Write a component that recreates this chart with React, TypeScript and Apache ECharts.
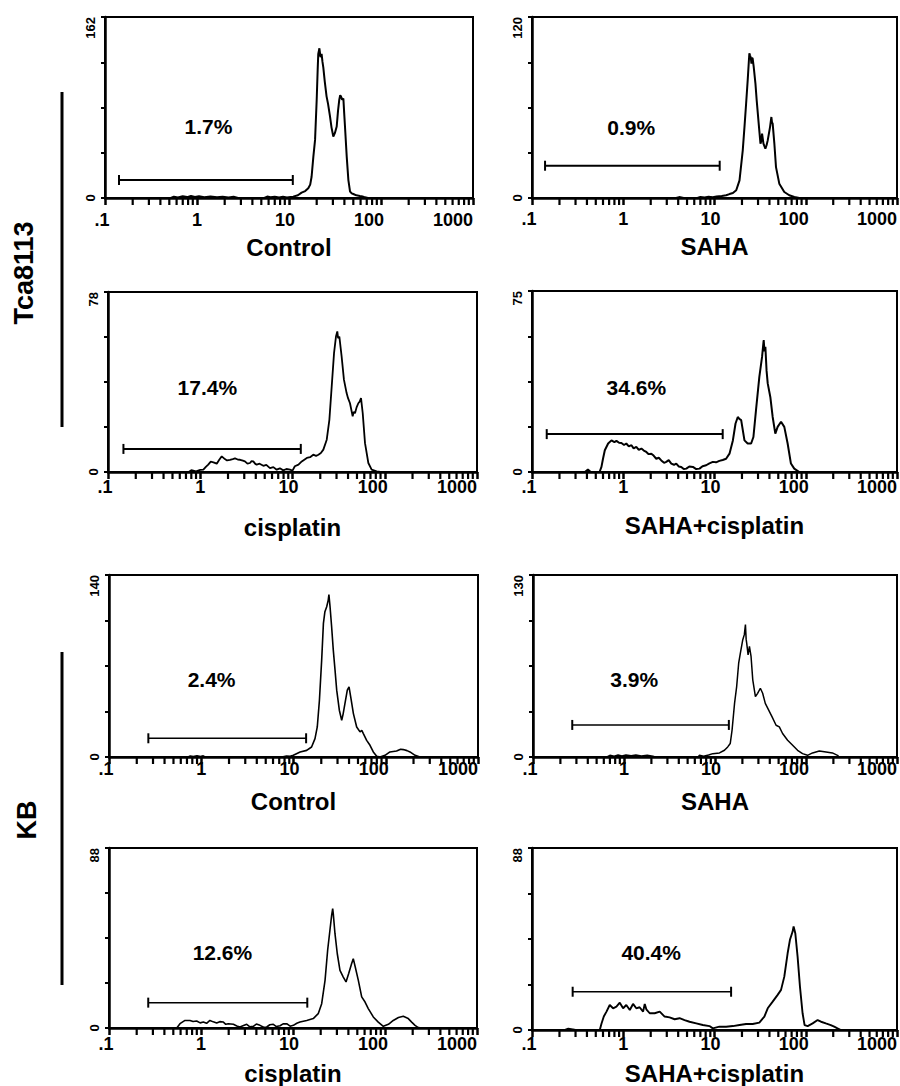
import React, { useEffect, useRef } from "react";
import * as echarts from "echarts";

// ---------- data ----------
const titles = ["Control", "SAHA", "cisplatin", "SAHA+cisplatin", "Control", "SAHA", "cisplatin", "SAHA+cisplatin"];
const yMax = [162, 120, 78, 75, 140, 130, 88, 88];
const xTickLabels = [".1", "1", "10", "100", "1000"];
const minorTickValues = [0.2, 0.3, 0.4, 0.5, 0.6, 0.7, 0.8, 0.9, 2, 3, 4, 5, 6, 7, 8, 9, 20, 30, 40, 50, 60, 70, 80, 90, 200, 300, 400, 500, 600, 700, 800, 900];
const percentLabels = ["1.7%", "0.9%", "17.4%", "34.6%", "2.4%", "3.9%", "12.6%", "40.4%"];
const percentX = [1.35, 1.24, 1.21, 1.41, 1.31, 1.31, 1.73, 2.05];
const percentY = [63.5, 46.4, 36.4, 34.8, 59.2, 55, 36.7, 37.2];
const gateLow = [0.142, 0.139, 0.147, 0.145, 0.267, 0.27, 0.267, 0.279];
const gateHigh = [11.0, 11.4, 12.3, 12.3, 13.7, 14.2, 14.3, 15.2];
const gateLevel = [16.1, 21.4, 10.0, 15.7, 14.4, 22.9, 12.4, 18.5];
const rowLabels = ["Tca8113", "KB"];

const tcaControl: [number, number][] = [
  [0.1, 0], [0.52, 0], [0.56, 1.2], [0.62, 0.4], [0.7, 1.5], [0.78, 0.8], [0.86, 1.8], [0.95, 0.9], [1.05, 1.6], [1.2, 0.7], [1.4, 1.4], [1.65, 0.6], [1.9, 1.2], [2.2, 0.5], [2.5, 1.1], [2.8, 0], [5.4, 0], [5.8, 1.3], [6.3, 0.6], [7.0, 1.2], [7.8, 0.5], [8.6, 1.1], [9.5, 0.4], [10.4, 1.0], [11.1, 1.2], [12.5, 2.5], [13.7, 4.8], [15.0, 6.2], [16.2, 8.7], [17.0, 12], [17.6, 19], [18.4, 37], [19.2, 52], [20.0, 88], [20.5, 115], [20.8, 129], [21.4, 134], [22.0, 126], [22.6, 129], [23.1, 122], [23.6, 117], [24.5, 104], [25.6, 91], [26.6, 84], [27.9, 73], [29.0, 63], [30.3, 55], [31.5, 58], [33.0, 64], [34.1, 78], [35.2, 88], [36.0, 92], [36.7, 91], [37.8, 88], [39.0, 89], [39.8, 76], [40.6, 64], [42.4, 37], [44.2, 16], [46.1, 5.7], [48, 4.2], [50, 3.6], [54, 2.4], [59, 1.8], [63, 1.4], [67, 0.6], [72, 0], [1000, 0],
];
const tcaSaha: [number, number][] = [
  [0.1, 0], [3.8, 0], [4.1, 0.6], [4.6, 0], [6.5, 0], [7.0, 0.7], [7.8, 0.3], [8.6, 0.8], [9.6, 0.5], [10.5, 1.0], [12, 1.4], [13.4, 1.8], [14.6, 2.6], [15.9, 3.3], [17.3, 5.1], [18.8, 11.7], [20.4, 31.6], [21.3, 47], [22.2, 62.5], [23.1, 78], [23.7, 89], [24.1, 96], [24.5, 94.6], [25.0, 93], [25.4, 89], [25.8, 93], [26.2, 92.4], [26.9, 86.9], [28.1, 75.8], [29.0, 64.7], [30.5, 49.3], [31.9, 36], [32.6, 38], [33.2, 42.7], [34.4, 36], [36.1, 32.7], [37.2, 35], [38.3, 38.2], [40.6, 47], [42.0, 53.7], [42.7, 50], [43.4, 49.3], [45.3, 36], [47.2, 20.5], [51.3, 9.5], [58.2, 4], [66, 1.8], [75, 0.7], [85, 0], [1000, 0],
];
const tcaCis: [number, number][] = [
  [0.1, 0], [0.75, 0], [0.8, 0.8], [0.9, 0.3], [1.0, 0.9], [1.08, 1.0], [1.15, 2.2], [1.22, 3.2], [1.3, 4.5], [1.39, 4.2], [1.51, 3.6], [1.6, 5.2], [1.71, 6.8], [1.85, 5.6], [1.95, 5.0], [2.1, 5.3], [2.25, 5.6], [2.38, 5.9], [2.55, 5.4], [2.7, 5.3], [2.9, 4.9], [3.05, 4.6], [3.25, 3.6], [3.46, 3.9], [3.6, 4.7], [3.76, 4.6], [3.95, 3.5], [4.09, 3.2], [4.4, 3.6], [4.83, 2.7], [5.2, 3.1], [5.7, 1.7], [6.2, 2.1], [6.74, 1.0], [7.3, 1.6], [7.95, 0.7], [8.6, 1.3], [9.39, 1.0], [10, 0.6], [10.6, 2.5], [11.6, 3.2], [12.6, 4.6], [14.3, 6.1], [15.5, 6.4], [16.8, 7.5], [18, 7.0], [19.1, 7.5], [20.3, 8.2], [21.6, 9.7], [23.5, 14], [25.1, 22.6], [26.6, 37], [28.2, 51.5], [29.6, 58.7], [30.6, 60.9], [31.2, 58], [32.2, 58.7], [34.1, 50], [36.1, 40], [38.6, 34.2], [40, 32], [42.0, 29.8], [44.9, 24.1], [46, 26], [47.6, 25.5], [49.5, 28], [51.7, 29.8], [53.5, 30.5], [55.3, 32], [57.7, 25.5], [61.1, 12.5], [66.4, 3.9], [72.1, 1.0], [81.8, 0.3], [90, 0], [1000, 0],
];
const tcaSahaCis: [number, number][] = [
  [0.1, 0], [0.38, 0], [0.41, 1.0], [0.44, 0], [0.55, 0], [0.577, 2.1], [0.6, 5.5], [0.628, 9.0], [0.683, 11.8], [0.743, 13.1], [0.8, 12.4], [0.842, 12.9], [0.9, 12.1], [0.955, 12.0], [1.02, 11.2], [1.08, 11.8], [1.15, 10.6], [1.23, 11.1], [1.3, 9.8], [1.39, 10.4], [1.48, 9.2], [1.58, 9.7], [1.68, 8.9], [1.79, 8.3], [1.9, 7.4], [2.03, 7.6], [2.15, 6.8], [2.3, 5.5], [2.45, 5.9], [2.61, 4.8], [2.8, 3.8], [2.96, 4.2], [3.15, 4.9], [3.36, 3.5], [3.6, 3.0], [3.81, 3.5], [4.05, 2.3], [4.32, 2.1], [4.6, 1.2], [4.91, 1.4], [5.3, 2.3], [5.8, 2.1], [6.3, 1.2], [6.85, 1.4], [7.4, 2.4], [8.1, 2.8], [8.8, 3.6], [9.59, 4.2], [10.4, 4.0], [11.3, 4.6], [12.3, 5.0], [13.4, 5.5], [14.6, 7.6], [15.9, 13.1], [17.0, 20.1], [18.0, 22.8], [18.7, 22.0], [19.6, 21.5], [21.3, 13.1], [23.1, 11.8], [25.2, 11.8], [26.7, 14.5], [28.5, 25.6], [31.0, 39.4], [33.2, 47.7], [34.6, 54.7], [35.3, 50], [36.1, 51.9], [37.2, 42], [38.3, 36.7], [40.9, 31.1], [43.4, 22.8], [46.4, 15.9], [49.2, 18.7], [53.6, 20.8], [58.2, 18.7], [63.3, 11.8], [68.8, 3.5], [74.8, 1.4], [84.9, 0], [1000, 0],
];
const kbControl: [number, number][] = [
  [0.1, 0], [0.72, 0], [0.76, 0.8], [0.82, 0.3], [0.9, 1.0], [0.98, 0.4], [1.05, 0.9], [1.1, 0], [7.5, 0], [8.4, 0.8], [9.2, 0.5], [9.96, 1.3], [11.8, 3.9], [13.9, 5.1], [15.7, 7.7], [17.1, 14.1], [18.1, 23.1], [19.1, 43.7], [20.2, 74.5], [21.1, 102.8], [21.9, 111.8], [22.9, 115.6], [23.8, 120.7], [24.2, 125], [24.9, 115.6], [25.9, 100.2], [27.0, 82.2], [28.2, 66.8], [29.4, 51.4], [31.4, 36], [33.3, 28.3], [34.5, 33], [36.1, 41.1], [38.3, 51.4], [40.0, 53.9], [41.7, 46.2], [44.6, 33.4], [48.4, 23.1], [52.6, 19.3], [55, 20.5], [57.2, 18], [62.1, 12.8], [67.5, 9], [73.3, 3.9], [79.8, 0.5], [86.7, 0], [98.2, 1.3], [111, 3.9], [131, 4.6], [145, 6.0], [155, 5.7], [170, 4.9], [183, 3.9], [208, 1.3], [235, 0], [1000, 0],
];
const kbSaha: [number, number][] = [
  [0.1, 0], [0.65, 0], [0.7, 1.2], [0.78, 0.6], [0.86, 1.4], [0.95, 0.8], [1.05, 1.5], [1.2, 0.9], [1.35, 1.4], [1.55, 0.7], [1.8, 1.2], [2.08, 0.5], [2.2, 0], [6.5, 0], [6.76, 1.2], [7.5, 0.6], [8.5, 1.4], [9.46, 2.4], [11.2, 2.9], [12.7, 4.8], [13.8, 7.2], [14.7, 9.6], [15.4, 19.2], [16.4, 38.3], [17.3, 50.3], [18.2, 67], [19.0, 74.2], [20.2, 83.8], [21.0, 87.4], [21.6, 94.6], [22.0, 84], [22.3, 81.4], [23.1, 73], [23.9, 79], [24.9, 71.8], [26.0, 55.1], [27.8, 43.1], [29.4, 45.5], [31.5, 49.1], [33.4, 45.5], [35.7, 38.3], [38.9, 33.5], [42.4, 28.7], [46.9, 22.7], [50.9, 21.5], [55.3, 16.8], [62.8, 12], [71.3, 8.4], [80.8, 4.8], [91.6, 2.4], [104, 1.2], [118, 2.9], [140, 4.3], [166, 3.6], [195, 2.9], [222, 1.2], [231, 0], [1000, 0],
];
const kbCis: [number, number][] = [
  [0.1, 0], [0.545, 0], [0.591, 2.1], [0.67, 3.7], [0.759, 3.7], [0.82, 3.2], [0.897, 3.4], [0.98, 2.5], [1.06, 2.9], [1.15, 2.3], [1.25, 3.7], [1.36, 3.0], [1.48, 2.4], [1.6, 3.1], [1.75, 2.9], [1.86, 1.8], [1.98, 2.1], [2.25, 1.8], [2.45, 1.0], [2.65, 0.5], [2.9, 1.2], [3.14, 1.8], [3.4, 0.6], [3.7, 0.8], [4.0, 1.9], [4.38, 1.3], [4.8, 0.4], [5.18, 0.5], [5.6, 1.6], [6.11, 1.8], [6.6, 0.7], [7.23, 1.1], [7.8, 2.0], [8.54, 2.1], [9.3, 0.9], [10.1, 1.3], [11.0, 2.3], [11.9, 2.9], [14.1, 3.7], [16.6, 4.6], [18.8, 7], [20.5, 11.9], [22.3, 23.3], [23.8, 38], [25.2, 47.8], [26.3, 55.1], [27.0, 58.4], [27.4, 55.9], [28.6, 46.1], [30.3, 36.3], [32.4, 28.2], [35.2, 24.9], [37.7, 22.5], [40.3, 26.6], [43.4, 31.5], [45.2, 33.9], [47.5, 29.8], [51.3, 23.3], [55.8, 15.2], [60.7, 12.7], [65.8, 9.5], [74.6, 5.4], [84.5, 2.9], [95.9, 0.8], [109, 1.8], [123, 3.7], [140, 5.1], [158, 5.7], [179, 4.6], [195, 2.9], [212, 1.3], [230, 0.2], [251, 0], [1000, 0],
];
const kbSahaCis: [number, number][] = [
  [0.1, 0], [0.23, 0], [0.25, 0.6], [0.28, 0.3], [0.3, 0], [0.553, 0], [0.577, 3.0], [0.612, 6.5], [0.655, 8.9], [0.711, 12.1], [0.774, 10.5], [0.842, 11.3], [0.916, 13.2], [0.996, 10.5], [1.08, 12.1], [1.18, 9.7], [1.28, 12.6], [1.39, 10.5], [1.51, 11.0], [1.65, 8.9], [1.72, 12.6], [1.79, 10.0], [1.95, 8.1], [2.21, 8.1], [2.51, 8.9], [2.84, 6.5], [3.22, 6.1], [3.66, 5.2], [4.14, 5.7], [4.7, 4.8], [5.33, 4.0], [6.31, 3.2], [7.45, 2.4], [8.81, 1.9], [9.59, 0.8], [11.3, 1.6], [13.4, 1.6], [15.9, 1.9], [18.8, 2.4], [22.2, 2.9], [26.2, 2.9], [31.0, 3.6], [35.2, 6.5], [38.3, 10.5], [43.4, 13.7], [49.2, 17], [53.6, 19.4], [58.2, 25.8], [63.3, 37.1], [67.1, 43.6], [71.8, 47.6], [73.6, 50.1], [76.8, 46.8], [81.4, 35.5], [86.4, 21], [92.3, 8.1], [97.1, 2.4], [105, 1.9], [119, 3.2], [135, 4.8], [147, 4.0], [166, 3.2], [188, 2.4], [205, 1.6], [223, 0.8], [243, 0], [1000, 0],
];
const histograms = [tcaControl, tcaSaha, tcaCis, tcaSahaCis, kbControl, kbSaha, kbCis, kbSahaCis];

// ---------- layout (pixels) ----------
const layout = [
  { left: 105, top: 17, width: 368, height: 181, titleGap: 37, labelMargin: 13, lw: 2.0 },
  { left: 532, top: 17, width: 366, height: 181, titleGap: 36, labelMargin: 12, lw: 2.0 },
  { left: 108, top: 292, width: 369, height: 180, titleGap: 43, labelMargin: 6, lw: 1.8 },
  { left: 532, top: 291, width: 366, height: 181, titleGap: 41, labelMargin: 6, lw: 2.0 },
  { left: 109, top: 575, width: 369, height: 182, titleGap: 32, labelMargin: 3, lw: 1.6 },
  { left: 533, top: 575, width: 365, height: 182, titleGap: 32, labelMargin: 3, lw: 1.5 },
  { left: 109, top: 848, width: 368, height: 180, titleGap: 33, labelMargin: 7, lw: 1.6 },
  { left: 532, top: 848, width: 366, height: 182, titleGap: 31, labelMargin: 5, lw: 1.9 },
];

const FONT = '"Liberation Sans", Arial, Helvetica, sans-serif';
const lg = (v: number) => Math.log10(v);

function buildOption() {
  const grid: any[] = [];
  const xAxis: any[] = [];
  const yAxis: any[] = [];
  const series: any[] = [];
  const tickRich: any = {};
  const pads = [6, 0, 8, 24, 0];
  pads.forEach((p, i) => {
    tickRich["t" + i] = { fontSize: 18, fontWeight: "bold", fontFamily: FONT, color: "#000", padding: [0, p, 0, 0] };
  });

  layout.forEach((L, i) => {
    grid.push({ left: L.left, top: L.top, width: L.width, height: L.height, show: true, borderColor: "#000", borderWidth: 2 });
    xAxis.push({
      type: "value", gridIndex: i, min: -1, max: 3, interval: 1,
      name: titles[i], nameLocation: "middle", nameGap: L.titleGap,
      nameTextStyle: { fontSize: 24, fontWeight: "bold", fontFamily: FONT, color: "#000" },
      axisLine: { show: true, onZero: false, lineStyle: { color: "#000", width: 2.5 } },
      axisTick: { show: true, length: 7, lineStyle: { color: "#000", width: 2.5 } },
      splitLine: { show: false },
      axisLabel: {
        show: true, margin: L.labelMargin, showMinLabel: true, showMaxLabel: true, alignMaxLabel: "right",
        fontSize: 18, fontWeight: "bold", fontFamily: FONT, color: "#000",
        rich: tickRich,
        formatter: (v: number) => {
          const k = Math.round(v) + 1;
          return `{t${k}|${xTickLabels[k]}}`;
        },
      },
    });
    const mx = yMax[i];
    yAxis.push({
      type: "value", gridIndex: i, min: 0, max: mx, interval: mx / 4,
      axisLine: { show: true, onZero: false, lineStyle: { color: "#000", width: 2.5 } },
      axisTick: { show: true, length: 4, lineStyle: { color: "#000", width: 2 } },
      splitLine: { show: false },
      axisLabel: {
        show: true, rotate: 90, margin: 8, showMinLabel: true, showMaxLabel: true, alignMaxLabel: "right",
        fontSize: 13, fontWeight: "bold", fontFamily: FONT, color: "#000",
        formatter: (v: number) => (Math.abs(v) < 1e-9 ? "0" : Math.abs(v - mx) < 1e-6 ? String(mx) : ""),
      },
    });
    // histogram
    series.push({
      type: "line", xAxisIndex: i, yAxisIndex: i, symbol: "none", smooth: false,
      lineStyle: { color: "#000", width: L.lw }, z: 3,
      data: histograms[i].map(([x, y]) => [lg(x), y]),
    });
    // log-scale minor ticks below the x axis
    series.push({
      type: "custom", coordinateSystem: "cartesian2d", xAxisIndex: i, yAxisIndex: i, clip: false, z: 10,
      data: minorTickValues.map((v) => [lg(v), 0]),
      renderItem: (params: any, api: any) => {
        const p = api.coord([api.value(0), api.value(1)]);
        return {
          type: "rect",
          shape: { x: p[0] - 1.1, y: p[1], width: 2.2, height: 7 },
          style: { fill: "#000" },
        };
      },
    });
    // gate marker
    series.push({
      type: "line", xAxisIndex: i, yAxisIndex: i, showSymbol: true, symbol: "rect",
      symbolSize: [2, 10], itemStyle: { color: "#000" },
      lineStyle: { color: "#000", width: i < 4 ? 2 : 1.5 }, z: 4,
      data: [[lg(gateLow[i]), gateLevel[i]], [lg(gateHigh[i]), gateLevel[i]]],
    });
    // percent label
    series.push({
      type: "scatter", xAxisIndex: i, yAxisIndex: i, symbolSize: 1, silent: true, z: 5,
      itemStyle: { color: "rgba(0,0,0,0)" },
      label: {
        show: true, position: [0, 0], align: "center", verticalAlign: "middle",
        formatter: percentLabels[i], fontSize: 21, fontWeight: "bold", fontFamily: FONT,
        color: "#000", opacity: 1, textBorderWidth: 0,
      },
      data: [[lg(percentX[i]), percentY[i]]],
    });
  });

  const graphic = [
    { type: "line", shape: { x1: 62, y1: 92, x2: 62, y2: 427 }, style: { stroke: "#000", lineWidth: 3 } },
    { type: "line", shape: { x1: 62, y1: 652, x2: 62, y2: 985 }, style: { stroke: "#000", lineWidth: 3 } },
    { type: "text", x: 24, y: 273, rotation: Math.PI / 2, style: { text: rowLabels[0], fontSize: 27, fontWeight: "bold", fontFamily: FONT, fill: "#000", align: "center", verticalAlign: "middle" } },
    { type: "text", x: 27, y: 820, rotation: Math.PI / 2, style: { text: rowLabels[1], fontSize: 27, fontWeight: "bold", fontFamily: FONT, fill: "#000", align: "center", verticalAlign: "middle" } },
  ];

  return { animation: false, backgroundColor: "#fff", grid, xAxis, yAxis, series, graphic };
}

export default function App() {
  const ref = useRef<HTMLDivElement>(null);
  useEffect(() => {
    if (!ref.current) return;
    const chart = echarts.init(ref.current, null, { renderer: "svg" });
    chart.setOption(buildOption() as any);
    return () => chart.dispose();
  }, []);
  return <div ref={ref} style={{ position: "fixed", left: 0, top: 0, width: 900, height: 1086, background: "#fff" }} />;
}
